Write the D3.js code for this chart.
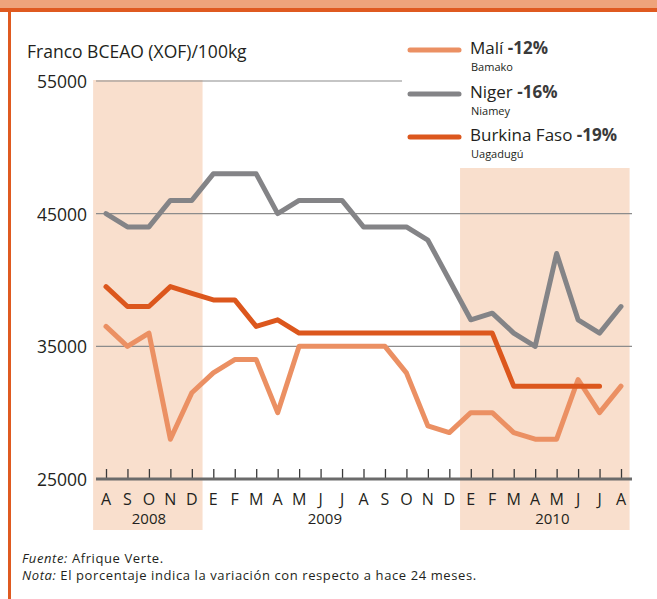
<!DOCTYPE html>
<html>
<head>
<meta charset="utf-8">
<script src="https://cdn.jsdelivr.net/npm/d3@7/dist/d3.min.js"></script>
<style>
  html, body { margin: 0; padding: 0; background: #fff; }
  svg { display: block; }
  text { font-family: "Open Sans", "Noto Sans", sans-serif; fill: #231f20; }
</style>
</head>
<body>
<div id="chart"></div>
<script>
// ---- Data ----
const months = ["A","S","O","N","D","E","F","M","A","M","J","J","A","S","O","N","D","E","F","M","A","M","J","J","A"];
const years = ["2008", "2009", "2010"];
const yearCenters = [2, 10.2, 20.8];          // month index under which each year label sits
const shadedRanges = [[-0.6, 4.5], [16.5, 24.4]]; // month-index ranges of shaded bands
const yTicks = [25000, 35000, 45000, 55000];

const maliValues    = [36500,35000,36000,28000,31500,33000,34000,34000,30000,35000,35000,35000,35000,35000,33000,29000,28500,30000,30000,28500,28000,28000,32500,30000,32000];
const nigerValues   = [45000,44000,44000,46000,46000,48000,48000,48000,45000,46000,46000,46000,44000,44000,44000,43000,40000,37000,37500,36000,35000,42000,37000,36000,38000];
const burkinaValues = [39500,38000,38000,39500,39000,38500,38500,36500,37000,36000,36000,36000,36000,36000,36000,36000,36000,36000,36000,32000,32000,32000,32000,32000,null];

const seriesNames = ["Malí", "Niger", "Burkina Faso"];
const seriesChanges = ["-12%", "-16%", "-19%"];
const seriesCities = ["Bamako", "Niamey", "Uagadugú"];
const seriesColors = ["#eb9063", "#848487", "#dc571d"];
const seriesValues = [maliValues, nigerValues, burkinaValues];

const yTitle = "Franco BCEAO (XOF)/100kg";
const sourceLabel = "Fuente:", sourceText = " Afrique Verte.";
const noteLabel = "Nota:", noteText = " El porcentaje indica la variación con respecto a hace 24 meses.";

// ---- Drawing ----
const W = 657, H = 599;
const svg = d3.select("#chart").append("svg").attr("width", W).attr("height", H);

// frame
svg.append("rect").attr("x", 0).attr("y", 0).attr("width", W).attr("height", 9).attr("fill", "#eea47b");
svg.append("rect").attr("x", 0).attr("y", 8).attr("width", W).attr("height", 4).attr("fill", "#df5a20");
svg.append("rect").attr("x", 8).attr("y", 8).attr("width", 3).attr("height", H - 8).attr("fill", "#df5a20");

const x = d3.scaleLinear().domain([0, 24]).range([106, 621]);
const y = d3.scaleLinear().domain([25000, 55000]).range([479, 81]);

// shaded bands
svg.append("g").selectAll("rect").data(shadedRanges).join("rect")
  .attr("x", d => x(d[0]))
  .attr("width", d => x(d[1]) - x(d[0]))
  .attr("y", (d, i) => i === 0 ? 80 : 168)
  .attr("height", (d, i) => i === 0 ? 530 - 80 : 530 - 168)
  .attr("fill", "#f9dfcd");

// gridlines
const grid = svg.append("g");
yTicks.filter(v => v !== 25000).forEach(v => {
  grid.append("line")
    .attr("x1", 96).attr("x2", v === 55000 ? 402 : 632)
    .attr("y1", y(v)).attr("y2", y(v))
    .attr("stroke", "#8c8c8c").attr("stroke-width", 1.2);
});

// y-axis labels (axis with no domain line)
const yAxis = d3.axisLeft(y).tickValues(yTicks).tickFormat(d3.format("d")).tickSize(0).tickPadding(0);
const yg = svg.append("g").attr("transform", "translate(87,0)").call(yAxis);
yg.select(".domain").remove();
yg.selectAll("text").attr("font-size", 17.5).attr("font-family", "'Open Sans', sans-serif").attr("fill", "#231f20").attr("dy", "0.38em");

// y title
svg.append("text").attr("x", 27).attr("y", 58).attr("font-size", 17.5).text(yTitle);

// x axis
const xAxis = d3.axisTop(x).tickValues(d3.range(months.length)).tickSize(10).tickFormat("");
const xg = svg.append("g").attr("transform", "translate(0,479)").call(xAxis);
xg.select(".domain").remove();
xg.selectAll(".tick line").attr("stroke", "#3a3a3a").attr("stroke-width", 1.3);
svg.append("line").attr("x1", 96).attr("x2", 632).attr("y1", 479).attr("y2", 479)
  .attr("stroke", "#6b6b6b").attr("stroke-width", 3);

svg.append("g").selectAll("text").data(months).join("text")
  .attr("x", (d, i) => x(i)).attr("y", 505)
  .attr("text-anchor", "middle").attr("font-size", 16).text(d => d);

svg.append("g").selectAll("text").data(years).join("text")
  .attr("x", (d, i) => x(yearCenters[i])).attr("y", 524)
  .attr("text-anchor", "middle").attr("font-size", 15).text(d => d);

// lines
const line = d3.line().defined(d => d != null).x((d, i) => x(i)).y(d => y(d));
seriesValues.forEach((vals, k) => {
  svg.append("path").datum(vals)
    .attr("d", line)
    .attr("fill", "none")
    .attr("stroke", seriesColors[k])
    .attr("stroke-width", 5)
    .attr("stroke-linejoin", "round")
    .attr("stroke-linecap", "round");
});

// legend
const legY = [50, 94, 137];
seriesNames.forEach((name, k) => {
  const g = svg.append("g");
  g.append("line").attr("x1", 410).attr("x2", 459).attr("y1", legY[k]).attr("y2", legY[k])
    .attr("stroke", seriesColors[k]).attr("stroke-width", 5).attr("stroke-linecap", "round");
  const t = g.append("text").attr("x", 470).attr("y", legY[k] + 4).attr("font-size", 17);
  t.append("tspan").text(name + " ");
  t.append("tspan").attr("font-weight", "bold").attr("fill", "#3a3a3a").text(seriesChanges[k]);
  g.append("text").attr("x", 471).attr("y", legY[k] + 21).attr("font-size", 11).text(seriesCities[k]);
});

// footnotes
const f1 = svg.append("text").attr("x", 22).attr("y", 563).attr("font-size", 13).attr("letter-spacing", 0.6);
f1.append("tspan").attr("font-style", "italic").text(sourceLabel);
f1.append("tspan").text(sourceText);
const f2 = svg.append("text").attr("x", 22).attr("y", 580).attr("font-size", 13).attr("letter-spacing", 0.6);
f2.append("tspan").attr("font-style", "italic").text(noteLabel);
f2.append("tspan").text(noteText);
</script>
</body>
</html>
